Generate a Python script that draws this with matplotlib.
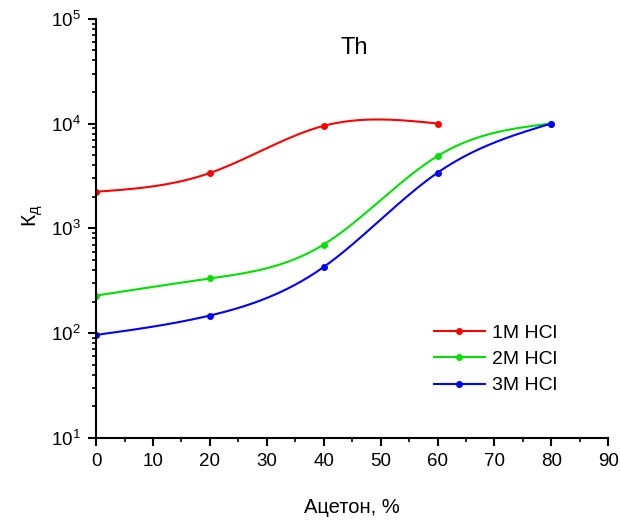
import numpy as np
import matplotlib.pyplot as plt
from matplotlib.ticker import LogLocator, MultipleLocator, NullFormatter

plt.rcParams['font.family'] = ['Liberation Sans', 'DejaVu Sans']

# data
aceton = [0, 20, 40, 60, 80]
kd_1m = [2230, 3370, 9500, 10000]
kd_2m = [228, 332, 700, 4890, 10000]
kd_3m = [96, 147, 427, 3390, 10000]
labels = ['1M HCl', '2M HCl', '3M HCl']
colors = ['#ff0000', '#00e000', '#0000ff']


def natural_spline(x, y, n=200):
    # natural cubic spline through the points (for the smooth line only)
    x = np.asarray(x, float)
    y = np.asarray(y, float)
    k = len(x)
    h = np.diff(x)
    A = np.zeros((k, k))
    b = np.zeros(k)
    A[0, 0] = A[-1, -1] = 1
    for i in range(1, k - 1):
        A[i, i - 1] = h[i - 1]
        A[i, i] = 2 * (h[i - 1] + h[i])
        A[i, i + 1] = h[i]
        b[i] = 6 * ((y[i + 1] - y[i]) / h[i] - (y[i] - y[i - 1]) / h[i - 1])
    m = np.linalg.solve(A, b)
    xs = np.linspace(x[0], x[-1], n)
    idx = np.clip(np.searchsorted(x, xs) - 1, 0, k - 2)
    x0, x1 = x[idx], x[idx + 1]
    hh = x1 - x0
    t0 = x1 - xs
    t1 = xs - x0
    ys = (m[idx] * t0 ** 3 + m[idx + 1] * t1 ** 3) / (6 * hh) \
        + (y[idx] / hh - m[idx] * hh / 6) * t0 \
        + (y[idx + 1] / hh - m[idx + 1] * hh / 6) * t1
    return xs, ys


fig = plt.figure(figsize=(6.2, 5.2), dpi=100)
ax = fig.add_axes([0.155, 0.158, 0.826, 0.806])

for vals, lab, c in zip([kd_1m, kd_2m, kd_3m], labels, colors):
    xv = aceton[:len(vals)]
    xs, ys = natural_spline(xv, np.log10(vals))
    ax.plot(xs, 10 ** ys, color=c, lw=1.5)
    ax.plot(xv, vals, 'o', color=c, ms=4)
    ax.plot([], [], '-o', color=c, lw=1.5, ms=4, label=lab)

ax.set_yscale('log')
ax.set_xlim(0, 90)
ax.set_ylim(10, 1e5)
ax.xaxis.set_major_locator(MultipleLocator(10))
ax.xaxis.set_minor_locator(MultipleLocator(5))
ax.yaxis.set_major_locator(LogLocator(base=10, numticks=10))
ax.yaxis.set_minor_locator(LogLocator(base=10, subs=np.arange(2, 10), numticks=10))
ax.yaxis.set_minor_formatter(NullFormatter())

ax.spines['top'].set_visible(False)
ax.spines['right'].set_visible(False)
for s in ['left', 'bottom']:
    ax.spines[s].set_linewidth(1.5)
ax.tick_params(which='major', length=6, width=1.5, labelsize=13.5, direction='out', pad=5)
ax.tick_params(which='minor', length=3, width=1.2, direction='out')

ax.set_xlabel('Ацетон, %', fontsize=14.5, labelpad=20)
ax.set_ylabel(r'К$_{\mathregular{д}}$', fontsize=15, labelpad=4)
ax.yaxis.set_label_coords(-0.1, 0.53)
ax.text(0.505, 0.93, 'Th', transform=ax.transAxes, fontsize=17, ha='center', va='center')

ax.legend(loc='upper left', bbox_to_anchor=(0.645, 0.29), frameon=False, fontsize=14,
          handlelength=2.6, handletextpad=0.35, labelspacing=0.45, borderaxespad=0)

fig.savefig('out.png', dpi=100)
